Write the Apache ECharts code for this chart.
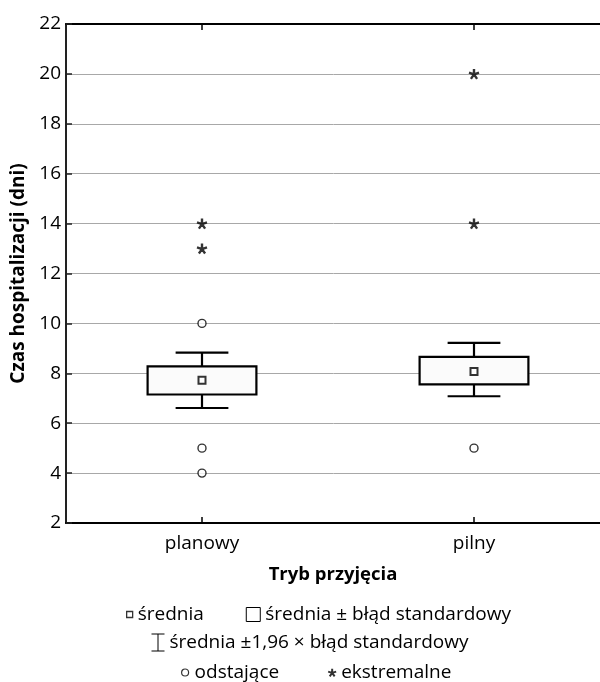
<!DOCTYPE html>
<html>
<head>
<meta charset="utf-8">
<script src="https://cdn.jsdelivr.net/npm/echarts@6/dist/echarts.min.js"></script>
<style>
html,body{margin:0;padding:0;background:#fff;}
#chart{width:600px;height:682px;}
</style>
</head>
<body>
<div id="chart"></div>
<script>
// ---- data ----
const categories = ['planowy', 'pilny'];
const means = [7.72, 8.07];
const seLow = [7.15, 7.56];
const seHigh = [8.28, 8.66];
const ciLow = [6.61, 7.08];
const ciHigh = [8.83, 9.22];
const outliersPlanowy = [10, 5, 4];
const outliersPilny = [5];
const extremesPlanowy = [14, 13];
const extremesPilny = [20, 14];
const yTicks = { min: 2, max: 22, interval: 2 };
const legendNames = {
  mean: 'średnia',
  se: 'średnia ± błąd standardowy',
  ci: 'średnia ±1,96 × błąd standardowy',
  out: 'odstające',
  ext: 'ekstremalne'
};

// ---- build ----
const FONT = '"Open Sans", "Noto Sans", sans-serif';
const boxData = categories.map((c, i) => [i, seLow[i], seHigh[i]]);
const ciData = categories.map((c, i) => [i, ciLow[i], ciHigh[i], seLow[i], seHigh[i]]);
const meanData = categories.map((c, i) => [i, means[i]]);
const outData = [];
outliersPlanowy.forEach(v => outData.push([0, v]));
outliersPilny.forEach(v => outData.push([1, v]));
const extData = [];
extremesPlanowy.forEach(v => extData.push([0, v]));
extremesPilny.forEach(v => extData.push([1, v]));

const asterisk = 'path://M5,5L5,0M5,5L9.76,3.45M5,5L7.94,9.05M5,5L2.06,9.05M5,5L0.24,3.45';

const chart = echarts.init(document.getElementById('chart'), null, { renderer: 'canvas' });
const option = {
  backgroundColor: '#fff',
  animation: false,
  textStyle: { fontFamily: FONT },
  grid: { left: 66, top: 24, bottom: 159, width: 544, containLabel: false, outerBoundsMode: 'none' },
  xAxis: [
    {
      type: 'category', data: categories, position: 'bottom',
      name: 'Tryb przyjęcia', nameLocation: 'middle', nameGap: 42,
      nameTextStyle: { fontSize: 18.5, fontWeight: 'bold', color: '#000', fontFamily: FONT, padding: [0, 10, 0, 0] },
      axisLine: { show: true, lineStyle: { color: '#000', width: 2 } },
      axisTick: { show: true, inside: true, alignWithLabel: true, length: 6, lineStyle: { color: '#000', width: 1.5 } },
      axisLabel: { fontSize: 19, color: '#000', margin: 11, fontFamily: FONT },
      splitLine: { show: false }
    },
    {
      type: 'category', data: categories, position: 'top',
      axisLine: { show: true, lineStyle: { color: '#000', width: 2 } },
      axisTick: { show: true, inside: true, alignWithLabel: true, length: 6, lineStyle: { color: '#000', width: 1.5 } },
      axisLabel: { show: false },
      splitLine: { show: false }
    }
  ],
  yAxis: {
    type: 'value', min: yTicks.min, max: yTicks.max, interval: yTicks.interval,
    name: 'Czas hospitalizacji (dni)', nameLocation: 'middle', nameGap: 37, nameRotate: 90,
    nameTextStyle: { fontSize: 19, fontWeight: 'bold', color: '#000', fontFamily: FONT },
    axisLine: { show: true, lineStyle: { color: '#222', width: 2 } },
    axisTick: { show: true, inside: true, length: 6, lineStyle: { color: '#222', width: 1.5 } },
    axisLabel: { fontSize: 19, color: '#000', margin: 5, fontFamily: FONT },
    splitLine: { show: true, lineStyle: { color: '#a8a8a8', width: 1 } }
  },
  legend: [
    {
      left: 118, top: 605, padding: 0, itemGap: 42, itemWidth: 14, itemHeight: 14,
      textStyle: { fontSize: 19, color: '#000', fontFamily: FONT },
      selectedMode: false,
      data: [
        { name: legendNames.mean, icon: 'path://M0,0M14,14M8,4L14,4L14,10L8,10Z', itemStyle: { color: '#fff', borderColor: '#000', borderWidth: 1.3 } },
        { name: legendNames.se, icon: 'path://M0,0L14,0L14,14L0,14Z', itemStyle: { color: '#fff', borderColor: '#000', borderWidth: 1 } }
      ]
    },
    {
      left: 151, top: 633, padding: 0, itemWidth: 13, itemHeight: 17,
      textStyle: { fontSize: 19, color: '#000', fontFamily: FONT },
      selectedMode: false,
      data: [
        { name: legendNames.ci, icon: 'path://M0,0L13,0M6.5,0L6.5,17M0,17L13,17', itemStyle: { color: 'rgba(0,0,0,0)', borderColor: '#000', borderWidth: 1 } }
      ]
    },
    {
      left: 181, top: 663, padding: 0, itemGap: 48, itemWidth: 8, itemHeight: 8,
      textStyle: { fontSize: 19, color: '#000', fontFamily: FONT },
      selectedMode: false,
      data: [
        { name: legendNames.out, icon: 'path://M0,4A3.5,3.5,0,1,0,7,4A3.5,3.5,0,1,0,0,4M0,0M8,8', itemStyle: { color: '#fff', borderColor: '#000', borderWidth: 1.2 } },
        { name: legendNames.ext, icon: asterisk, itemStyle: { color: 'rgba(0,0,0,0)', borderColor: '#000', borderWidth: 2 } }
      ]
    }
  ],
  series: [
    {
      name: legendNames.ci,
      type: 'custom',
      data: ciData,
      encode: { x: 0, y: [1, 2, 3, 4] },
      renderItem: function (params, api) {
        const x = api.value(0);
        const lo = api.coord([x, api.value(1)]);
        const hi = api.coord([x, api.value(2)]);
        const bLo = api.coord([x, api.value(3)]);
        const bHi = api.coord([x, api.value(4)]);
        const band = api.size([1, 0])[0];
        const cap = band * 0.097;
        const st = { stroke: '#000', lineWidth: 2.2, fill: null };
        return {
          type: 'group',
          children: [
            { type: 'line', shape: { x1: lo[0], y1: lo[1], x2: bLo[0], y2: bLo[1] }, style: st },
            { type: 'line', shape: { x1: hi[0], y1: hi[1], x2: bHi[0], y2: bHi[1] }, style: st },
            { type: 'line', shape: { x1: lo[0] - cap, y1: lo[1], x2: lo[0] + cap, y2: lo[1] }, style: st },
            { type: 'line', shape: { x1: hi[0] - cap, y1: hi[1], x2: hi[0] + cap, y2: hi[1] }, style: st }
          ]
        };
      },
      z: 2
    },
    {
      name: legendNames.se,
      type: 'custom',
      data: boxData,
      encode: { x: 0, y: [1, 2] },
      renderItem: function (params, api) {
        const x = api.value(0);
        const lo = api.coord([x, api.value(1)]);
        const hi = api.coord([x, api.value(2)]);
        const band = api.size([1, 0])[0];
        const w = band * 0.4;
        return {
          type: 'rect',
          shape: { x: lo[0] - w / 2, y: hi[1], width: w, height: lo[1] - hi[1] },
          style: { fill: '#fbfbfb', stroke: '#000', lineWidth: 2.2 }
        };
      },
      z: 3
    },
    {
      name: legendNames.mean,
      type: 'scatter',
      data: meanData,
      symbol: 'rect',
      symbolSize: 7,
      itemStyle: { color: '#fff', borderColor: '#000', borderWidth: 2 },
      z: 4
    },
    {
      name: legendNames.out,
      type: 'scatter',
      data: outData,
      symbol: 'circle',
      symbolSize: 8,
      itemStyle: { color: '#fff', borderColor: '#000', borderWidth: 1.4 },
      z: 4
    },
    {
      name: legendNames.ext,
      type: 'scatter',
      data: extData,
      symbol: asterisk,
      symbolSize: 10,
      itemStyle: { color: 'rgba(0,0,0,0)', borderColor: '#000', borderWidth: 2.4 },
      z: 4
    }
  ]
};
chart.setOption(option);
</script>
</body>
</html>
